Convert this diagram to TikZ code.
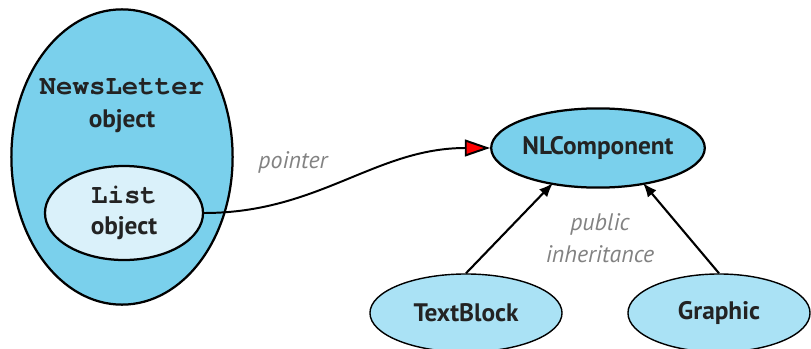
\documentclass[tikz,border=0pt]{standalone}
\usepackage{fontspec}
\setmainfont{PT Sans}
\newfontfamily\monofont{TeX Gyre Cursor}
\usetikzlibrary{arrows.meta,shapes.geometric}
\definecolor{objblue}{RGB}{122,208,236}
\definecolor{listblue}{RGB}{218,241,250}
\definecolor{leafblue}{RGB}{170,226,245}
\definecolor{notegray}{RGB}{130,130,130}
\definecolor{inkgray}{RGB}{35,35,35}

\begin{document}
\begin{tikzpicture}[x=0.025cm,y=-0.025cm,
		objnode/.style={ellipse,line width=1.6pt,draw,fill=objblue,inner sep=0pt},
		leafnode/.style={ellipse,line width=1pt,draw,fill=leafblue,inner sep=0pt,text=inkgray,
			minimum height=1.95cm,font=\fontsize{18}{21}\selectfont\bfseries},
		note/.style={text=notegray,font=\fontsize{17}{23}\selectfont\itshape,align=center}]
		\useasboundingbox (0,0) rectangle (811,349);

		\node[objnode,minimum width=5.53cm,minimum height=7.38cm] (newsletter)
			at (122,157) {};
		\node[align=center,text=inkgray,font=\fontsize{18}{23.5}\selectfont\bfseries] (nltext)
			at (122,106) {{\monofont\fontsize{19.5}{23.5}\selectfont NewsLetter}\\object};
		\node[ellipse,line width=1.6pt,draw,fill=listblue,inner sep=0pt,align=center,text=inkgray,
			minimum width=3.95cm,minimum height=2.35cm,
			font=\fontsize{18}{23.5}\selectfont\bfseries] (list)
			at (124,213) {{\monofont\fontsize{19.5}{23.5}\selectfont List}\\[-1pt]object};

		\node[objnode,minimum width=4.72cm,minimum height=1.98cm,text=inkgray,
			font=\fontsize{18}{21}\selectfont\bfseries] (nlcomp)
			at (598,148) {NLComponent};
		\node[leafnode,minimum width=4.8cm] (textblock)
			at (466,313) {TextBlock};
		\node[leafnode,minimum width=4.55cm] (graphic)
			at (719,313) {Graphic};

		\node[note] (pointer) at (293,162) {pointer};
		\node[note] (inherit) at (600,238) {public\\inheritance};

		\draw[line width=1.4pt,-{Triangle[length=18pt,width=12pt,fill=red]}]
			(list.east) to[out=0,in=180] (nlcomp.west);
		\draw[line width=1.5pt,-{Latex[length=10pt,width=8pt]}] (textblock.north) -- (553,183);
		\draw[line width=1.5pt,-{Latex[length=10pt,width=8pt]}] (graphic.north) -- (643,183);
	\end{tikzpicture}
\end{document}
